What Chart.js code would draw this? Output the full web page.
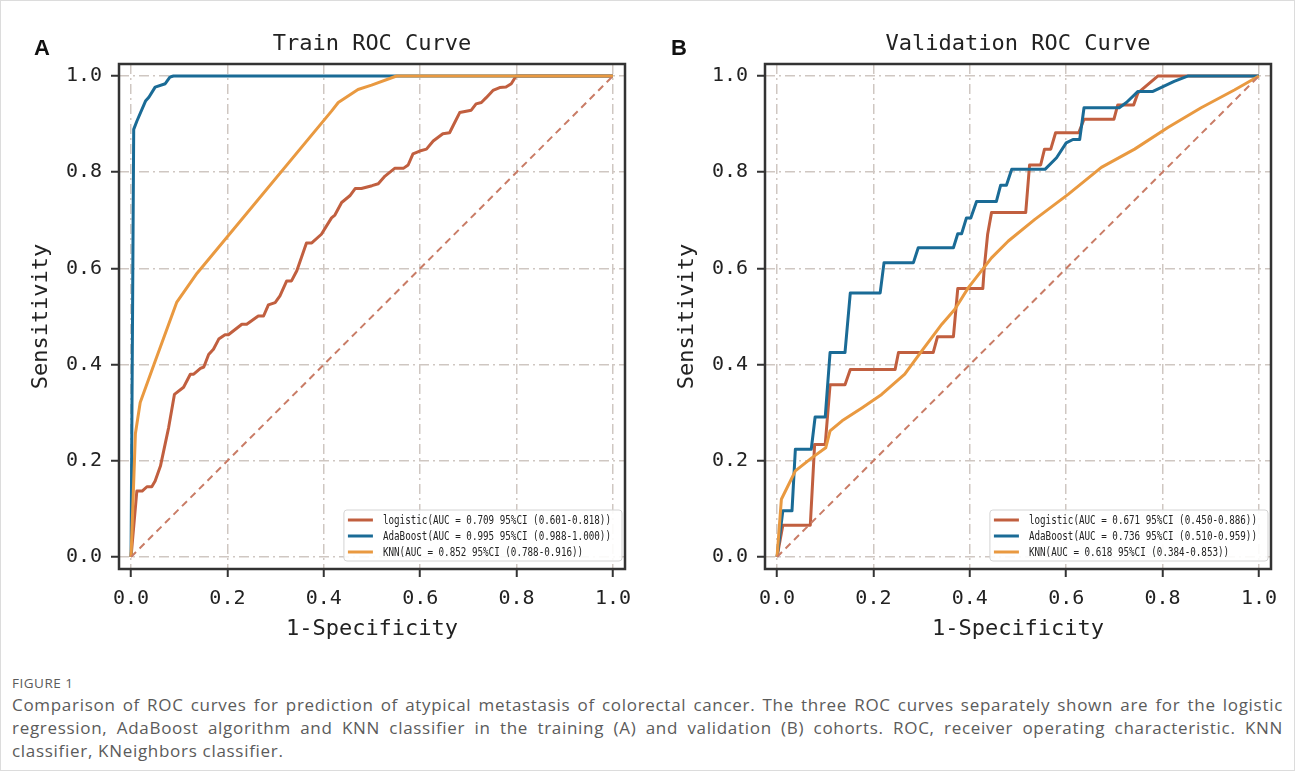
<!DOCTYPE html>
<html>
<head>
<meta charset="utf-8">
<title>ROC curves</title>
<script src="https://cdn.jsdelivr.net/npm/chart.js@4.4.1/dist/chart.umd.min.js"></script>
<style>
  body {
    margin: 0;
    width: 1293px;
    height: 769px;
    position: relative;
    overflow: hidden;
    background: #ffffff;
    border: 1px solid #dcdcdc;
  }
  canvas { position: absolute; top: 0; }
  #trainRoc { left: 0; }
  #validRoc { left: 645px; }
  .tag {
    position: absolute;
    font: bold 22px "Liberation Sans", Arial, sans-serif;
    line-height: 22px;
    color: #111;
  }
  #caption {
    position: absolute;
    left: 11px;
    top: 672px;
    width: 1271px;
    font-family: "Open Sans", sans-serif;
    color: #5b5b5b;
  }
  #caption .fig { font-size: 13.5px; line-height: 20px; letter-spacing: 0.5px; }
  #caption .ln { font-size: 17px; line-height: 23px; letter-spacing: 0.7px; text-align: justify; text-align-last: justify; white-space: nowrap; }
  #caption .ln.last { text-align-last: left; }
</style>
</head>
<body>
<canvas id="trainRoc" width="645" height="650"></canvas>
<canvas id="validRoc" width="650" height="650"></canvas>
<div class="tag" style="left:33px; top:36px;">A</div>
<div class="tag" style="left:670px; top:36px;">B</div>
<div id="caption">
  <div class="fig">FIGURE 1</div>
  <div class="ln">Comparison of ROC curves for prediction of atypical metastasis of colorectal cancer. The three ROC curves separately shown are for the logistic</div>
  <div class="ln">regression, AdaBoost algorithm and KNN classifier in the training (A) and validation (B) cohorts. ROC, receiver operating characteristic. KNN</div>
  <div class="ln last">classifier, KNeighbors classifier.</div>
</div>

<script>
// axis ticks (both panels)
var xTicks = [0.0, 0.2, 0.4, 0.6, 0.8, 1.0];
var yTicks = [0.0, 0.2, 0.4, 0.6, 0.8, 1.0];

// chance line
var chanceFpr = [0, 1];
var chanceTpr = [0, 1];

// ---- training cohort ----
var trainLogisticFpr = [0, 0.012, 0.023, 0.033, 0.043, 0.05, 0.061, 0.078, 0.09, 0.109, 0.123, 0.13, 0.144, 0.151, 0.161, 0.171, 0.182, 0.195, 0.202, 0.23, 0.24, 0.264, 0.275, 0.285, 0.299, 0.309, 0.323, 0.333, 0.344, 0.364, 0.375, 0.395, 0.416, 0.423, 0.437, 0.454, 0.465, 0.478, 0.5, 0.513, 0.527, 0.547, 0.565, 0.575, 0.585, 0.599, 0.613, 0.627, 0.647, 0.661, 0.668, 0.682, 0.706, 0.716, 0.727, 0.737, 0.751, 0.765, 0.778, 0.789, 0.799, 1];
var trainLogisticTpr = [0, 0.137, 0.137, 0.146, 0.146, 0.158, 0.189, 0.269, 0.338, 0.353, 0.38, 0.38, 0.392, 0.395, 0.421, 0.432, 0.453, 0.462, 0.462, 0.484, 0.484, 0.501, 0.501, 0.524, 0.529, 0.543, 0.574, 0.574, 0.595, 0.653, 0.653, 0.671, 0.705, 0.711, 0.737, 0.751, 0.766, 0.766, 0.772, 0.776, 0.792, 0.808, 0.808, 0.815, 0.838, 0.844, 0.848, 0.865, 0.88, 0.882, 0.896, 0.924, 0.929, 0.942, 0.945, 0.955, 0.97, 0.976, 0.977, 0.984, 1.0, 1.0];

var trainAdaFpr = [0, 0.0055, 0.012, 0.03, 0.037, 0.05, 0.071, 0.081, 0.088, 1];
var trainAdaTpr = [0, 0.889, 0.906, 0.948, 0.956, 0.977, 0.984, 0.998, 1.0, 1.0];

var trainKnnFpr = [0, 0.009, 0.019, 0.05, 0.095, 0.137, 0.416, 0.43, 0.471, 0.499, 0.551, 1];
var trainKnnTpr = [0, 0.256, 0.321, 0.407, 0.53, 0.59, 0.927, 0.945, 0.972, 0.981, 1.0, 1.0];

var trainLabels = [
  'logistic(AUC = 0.709 95%CI (0.601-0.818))',
  'AdaBoost(AUC = 0.995 95%CI (0.988-1.000))',
  'KNN(AUC = 0.852 95%CI (0.788-0.916))'
];

// ---- validation cohort ----
var validLogisticFpr = [0, 0.012, 0.069, 0.078, 0.1, 0.11, 0.141, 0.152, 0.245, 0.252, 0.324, 0.333, 0.366, 0.375, 0.427, 0.43, 0.437, 0.445, 0.516, 0.524, 0.547, 0.555, 0.568, 0.578, 0.626, 0.637, 0.699, 0.707, 0.74, 0.749, 0.79, 1];
var validLogisticTpr = [0, 0.066, 0.066, 0.234, 0.234, 0.358, 0.358, 0.39, 0.39, 0.425, 0.425, 0.458, 0.458, 0.558, 0.558, 0.601, 0.671, 0.716, 0.716, 0.815, 0.815, 0.848, 0.848, 0.882, 0.882, 0.91, 0.91, 0.94, 0.94, 0.965, 1.0, 1.0];

var validAdaFpr = [0, 0.012, 0.031, 0.038, 0.071, 0.079, 0.1, 0.11, 0.141, 0.152, 0.214, 0.222, 0.283, 0.293, 0.366, 0.375, 0.383, 0.393, 0.402, 0.414, 0.455, 0.464, 0.476, 0.487, 0.556, 0.58, 0.6, 0.614, 0.628, 0.637, 0.71, 0.725, 0.749, 0.78, 0.824, 0.852, 1];
var validAdaTpr = [0, 0.096, 0.096, 0.224, 0.224, 0.291, 0.291, 0.425, 0.425, 0.549, 0.549, 0.612, 0.612, 0.643, 0.643, 0.672, 0.672, 0.705, 0.705, 0.739, 0.739, 0.773, 0.773, 0.806, 0.806, 0.83, 0.861, 0.868, 0.868, 0.934, 0.934, 0.945, 0.968, 0.968, 0.989, 1.0, 1.0];

var validKnnFpr = [0, 0.009, 0.038, 0.072, 0.101, 0.11, 0.135, 0.176, 0.217, 0.265, 0.3, 0.342, 0.369, 0.397, 0.445, 0.48, 0.535, 0.604, 0.673, 0.742, 0.811, 0.88, 0.949, 1];
var validKnnTpr = [0, 0.12, 0.179, 0.206, 0.227, 0.262, 0.283, 0.31, 0.338, 0.38, 0.428, 0.484, 0.515, 0.56, 0.622, 0.657, 0.702, 0.754, 0.81, 0.848, 0.893, 0.934, 0.971, 1.0];

var validLabels = [
  'logistic(AUC = 0.671 95%CI (0.450-0.886))',
  'AdaBoost(AUC = 0.736 95%CI (0.510-0.959))',
  'KNN(AUC = 0.618 95%CI (0.384-0.853))'
];

var mono = '"DejaVu Sans Mono", "Liberation Mono", monospace';
var ink = '#222222';
var gridColor = '#cfc7c2';
var colLogistic = '#c15f3f';
var colAda = '#1a6b96';
var colKnn = '#e99940';
var colChance = '#c97c66';

function rocPoints(fpr, tpr) {
  return fpr.map(function (x, i) { return { x: x, y: tpr[i] }; });
}

// black frame round the plot area
var framePlugin = {
  id: 'frame',
  afterDatasetsDraw: function (chart) {
    var a = chart.chartArea, ctx = chart.ctx;
    ctx.save();
    ctx.strokeStyle = '#333333';
    ctx.lineWidth = 2.5;
    ctx.strokeRect(a.left, a.top, a.right - a.left, a.bottom - a.top);
    ctx.restore();
  }
};

// matplotlib-like legend box in the lower right corner
var boxLegend = {
  id: 'boxLegend',
  afterDraw: function (chart) {
    var a = chart.chartArea, ctx = chart.ctx;
    var items = chart.data.datasets.filter(function (d) { return d.label; });
    var sx = 0.77, rowH = 16, lineLen = 25;
    ctx.save();
    ctx.font = '12px ' + mono;
    var textW = 0;
    items.forEach(function (d) { textW = Math.max(textW, ctx.measureText(d.label).width * sx); });
    var w = 4 + lineLen + 10 + textW + 11;
    var h = 10 + (items.length - 1) * rowH + 9;
    var x0 = a.right - 3 - w, y0 = a.bottom - 8 - h;
    ctx.beginPath();
    ctx.roundRect(x0, y0, w, h, 3);
    ctx.fillStyle = 'rgba(255,255,255,0.9)';
    ctx.fill();
    ctx.strokeStyle = '#d4d4d4';
    ctx.lineWidth = 1;
    ctx.stroke();
    items.forEach(function (d, i) {
      var cy = y0 + 10 + i * rowH;
      ctx.beginPath();
      ctx.moveTo(x0 + 4, cy);
      ctx.lineTo(x0 + 4 + lineLen, cy);
      ctx.strokeStyle = d.borderColor;
      ctx.lineWidth = 3;
      ctx.stroke();
      ctx.save();
      ctx.translate(x0 + 4 + lineLen + 10, cy);
      ctx.scale(sx, 1);
      ctx.fillStyle = ink;
      ctx.textBaseline = 'middle';
      ctx.fillText(d.label, 0, 0.5);
      ctx.restore();
    });
    ctx.restore();
  }
};

function makeRoc(canvasId, titleText, labels, logFpr, logTpr, adaFpr, adaTpr, knnFpr, knnTpr, yAxisW, yTitlePad, padRight) {
  var ctx = document.getElementById(canvasId).getContext('2d');
  return new Chart(ctx, {
    type: 'line',
    data: {
      datasets: [
        { label: labels[0], data: rocPoints(logFpr, logTpr), borderColor: colLogistic, borderWidth: 3, order: 4 },
        { label: labels[1], data: rocPoints(adaFpr, adaTpr), borderColor: colAda, borderWidth: 3, order: 3 },
        { label: labels[2], data: rocPoints(knnFpr, knnTpr), borderColor: colKnn, borderWidth: 3, order: 2 },
        { label: '', data: rocPoints(chanceFpr, chanceTpr), borderColor: colChance, borderWidth: 2, borderDash: [7, 5], order: 1 }
      ]
    },
    options: {
      responsive: false,
      animation: false,
      layout: { padding: { left: 0, right: padRight, top: 0, bottom: 0 } },
      elements: {
        point: { radius: 0, hoverRadius: 0 },
        line: { tension: 0, fill: false, borderJoinStyle: 'round' }
      },
      plugins: {
        legend: { display: false },
        tooltip: { enabled: false },
        title: {
          display: true,
          text: titleText,
          fullSize: false,
          color: ink,
          font: { family: mono, size: 22, weight: 'normal' },
          padding: { top: 30, bottom: 6.6 }
        }
      },
      scales: {
        x: {
          type: 'linear',
          min: -0.025,
          max: 1.025,
          afterBuildTicks: function (s) { s.ticks = xTicks.map(function (v) { return { value: v }; }); },
          afterFit: function (s) { s.height = 82; },
          grid: { color: gridColor, lineWidth: 1.5, tickColor: '#333333', tickWidth: 2, tickLength: 8 },
          border: { display: false, dash: [10, 4, 2, 4] },
          ticks: {
            color: ink, padding: 10, maxRotation: 0, autoSkip: false,
            font: { family: mono, size: 20 },
            callback: function (v) { return Number(v).toFixed(1); }
          },
          title: {
            display: true, text: '1-Specificity', color: ink,
            font: { family: mono, size: 22 },
            padding: { top: 0, bottom: 9 }
          }
        },
        y: {
          type: 'linear',
          min: -0.025,
          max: 1.025,
          afterBuildTicks: function (s) { s.ticks = yTicks.map(function (v) { return { value: v }; }); },
          afterFit: function (s) { s.width = yAxisW; },
          grid: { color: gridColor, lineWidth: 1.5, tickColor: '#333333', tickWidth: 2, tickLength: 8 },
          border: { display: false, dash: [10, 4, 2, 4] },
          ticks: {
            color: ink, padding: 9, autoSkip: false,
            font: { family: mono, size: 20 },
            callback: function (v) { return Number(v).toFixed(1); }
          },
          title: {
            display: true, text: 'Sensitivity', color: ink,
            font: { family: mono, size: 22 },
            padding: { top: yTitlePad, bottom: 0 }
          }
        }
      }
    },
    plugins: [framePlugin, boxLegend]
  });
}

makeRoc('trainRoc', 'Train ROC Curve', trainLabels,
  trainLogisticFpr, trainLogisticTpr, trainAdaFpr, trainAdaTpr, trainKnnFpr, trainKnnTpr, 118, 27, 21);
makeRoc('validRoc', 'Validation ROC Curve', validLabels,
  validLogisticFpr, validLogisticTpr, validAdaFpr, validAdaTpr, validKnnFpr, validKnnTpr, 119, 28, 25);
</script>
</body>
</html>
